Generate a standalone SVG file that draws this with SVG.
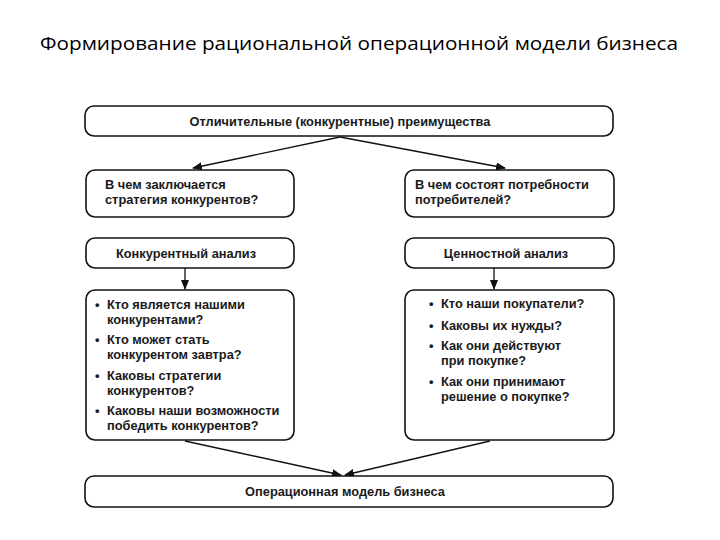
<svg xmlns="http://www.w3.org/2000/svg" width="720" height="540" viewBox="0 0 720 540">
<style>
.box{fill:#fff;stroke:#111;stroke-width:1.6}
.t{font-family:"Liberation Sans",Arial,sans-serif;font-size:12.8px;font-weight:bold;fill:#1a1a1a}
.c{text-anchor:middle}
.title{font-family:"Open Sans","Liberation Sans",sans-serif;font-size:19px;fill:#000}
.ln{stroke:#111;stroke-width:1.3;fill:none;marker-end:url(#ah)}
</style>
<defs>
<marker id="ah" markerWidth="10" markerHeight="8" refX="9" refY="4" orient="auto" markerUnits="userSpaceOnUse">
<path d="M0,0 L10,4 L0,8 Z" fill="#111"/>
</marker>
</defs>
<rect width="720" height="540" fill="#fff"/>
<text class="title" x="40" y="50" textLength="638" lengthAdjust="spacingAndGlyphs">Формирование рациональной операционной модели бизнеса</text>

<g id="connectors">
<path class="ln" d="M340,137 L193,168"/>
<path class="ln" d="M340,137 L505,168"/>
<path class="ln" d="M185,268 L185,289"/>
<path class="ln" d="M494,268 L494,289"/>
<path class="ln" d="M185,441 L341,475"/>
<path class="ln" d="M490,441 L345,475"/>
</g>

<g id="top">
<rect class="box" x="85" y="106" width="528" height="30" rx="9"/>
<text class="t c" x="340" y="126">Отличительные (конкурентные) преимущества</text>
</g>
<g id="q-left">
<rect class="box" x="86" y="170" width="208" height="47" rx="9"/>
<text class="t" x="105" y="189">В чем заключается<tspan x="105" dy="15">стратегия конкурентов?</tspan></text>
</g>
<g id="q-right">
<rect class="box" x="405" y="170" width="209" height="47" rx="9"/>
<text class="t" x="415" y="189">В чем состоят потребности<tspan x="415" dy="15">потребителей?</tspan></text>
</g>
<g id="a-left">
<rect class="box" x="86" y="238" width="208" height="30" rx="9"/>
<text class="t c" x="186" y="258">Конкурентный анализ</text>
</g>
<g id="a-right">
<rect class="box" x="405" y="238" width="209" height="30" rx="9"/>
<text class="t c" x="506" y="258">Ценностной анализ</text>
</g>
<g id="list-left">
<rect class="box" x="86" y="290" width="208" height="150" rx="9"/>
<text class="t" x="95" y="309">•<tspan x="107">Кто является нашими</tspan><tspan x="107" dy="15">конкурентами?</tspan></text>
<text class="t" x="95" y="344">•<tspan x="107">Кто может стать</tspan><tspan x="107" dy="15">конкурентом завтра?</tspan></text>
<text class="t" x="95" y="380">•<tspan x="107">Каковы стратегии</tspan><tspan x="107" dy="15">конкурентов?</tspan></text>
<text class="t" x="95" y="415">•<tspan x="107">Каковы наши возможности</tspan><tspan x="107" dy="15">победить конкурентов?</tspan></text>
</g>
<g id="list-right">
<rect class="box" x="405" y="290" width="209" height="150" rx="9"/>
<text class="t" x="429" y="308">•<tspan x="441">Кто наши покупатели?</tspan></text>
<text class="t" x="429" y="330">•<tspan x="441">Каковы их нужды?</tspan></text>
<text class="t" x="429" y="350">•<tspan x="441">Как они действуют</tspan><tspan x="441" dy="15">при покупке?</tspan></text>
<text class="t" x="429" y="386">•<tspan x="441">Как они принимают</tspan><tspan x="441" dy="15">решение о покупке?</tspan></text>
</g>
<g id="bottom">
<rect class="box" x="85" y="476" width="528" height="31" rx="9"/>
<text class="t c" x="345" y="496">Операционная модель бизнеса</text>
</g>
</svg>
